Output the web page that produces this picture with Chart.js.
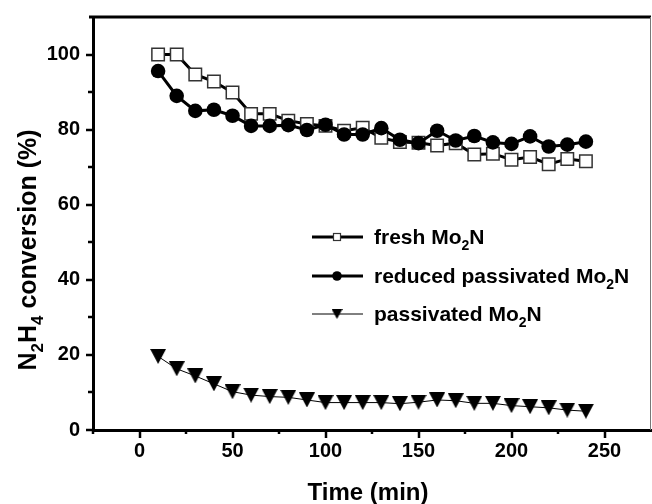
<!DOCTYPE html>
<html>
<head>
<meta charset="utf-8">
<title>N2H4 conversion vs time</title>
<script src="https://cdn.jsdelivr.net/npm/chart.js@4.4.0/dist/chart.umd.min.js"></script>
<style>
  html, body { margin: 0; padding: 0; background: #fff; }
</style>
</head>
<body>
<canvas id="chart" width="652" height="504"></canvas>
<script>
// reaction time (min)
const times = [10, 20, 30, 40, 50, 60, 70, 80, 90, 100, 110, 120,
               130, 140, 150, 160, 170, 180, 190, 200, 210, 220, 230, 240];

// N2H4 conversion (%)
const freshMo2N = [100, 100, 94.7, 92.8, 89.9, 84.2, 84.2, 82.4, 81.5, 81.0, 79.7, 80.5,
                   77.8, 76.7, 76.5, 75.8, 76.4, 73.4, 73.6, 72.0, 72.7, 70.8, 72.2, 71.6];
const reducedPassivatedMo2N = [95.6, 89.0, 85.0, 85.3, 83.7, 81.0, 81.0, 81.2, 79.9, 81.3, 78.7, 78.7,
                               80.4, 77.3, 76.4, 79.7, 77.1, 78.3, 76.6, 76.2, 78.2, 75.5, 76.0, 76.8];
const passivatedMo2N = [19.6, 16.3, 14.4, 12.3, 10.2, 9.3, 8.9, 8.7, 8.0, 7.3, 7.3, 7.3,
                        7.3, 7.0, 7.4, 8.0, 7.8, 7.1, 7.1, 6.5, 6.2, 5.9, 5.3, 5.0];

const seriesLabels = ['fresh Mo₂N', 'reduced passivated Mo₂N', 'passivated Mo₂N'];
const xTickLabels = [0, 50, 100, 150, 200, 250];
const yTickLabels = [0, 20, 40, 60, 80, 100];
const xTitle = 'Time (min)';
const yTitle = 'N₂H₄ conversion (%)';

const FONT = '"Liberation Sans", Arial, Helvetica, sans-serif';
const SUB = { '₂': '2', '₄': '4' };

function toPoints(ys) {
  return times.map((t, i) => ({ x: t, y: ys[i] }));
}

// filled down-pointing triangle, centred in its box
function downTriangle(w, h) {
  const c = document.createElement('canvas');
  c.width = w; c.height = h;
  const g = c.getContext('2d');
  g.fillStyle = '#000';
  g.beginPath();
  g.moveTo(0, 0);
  g.lineTo(w, 0);
  g.lineTo(w / 2, h);
  g.closePath();
  g.fill();
  return c;
}

// split a label into runs of normal text and subscript digits
function runs(str) {
  const out = [];
  for (const ch of str) {
    const sub = ch in SUB;
    const t = sub ? SUB[ch] : ch;
    const last = out[out.length - 1];
    if (last && last.sub === sub) last.t += t;
    else out.push({ t, sub });
  }
  return out;
}

// draw text with subscripts; align 'left' or 'center', baseline alphabetic
function drawRich(ctx, str, x, y, size, align) {
  const parts = runs(str);
  const subSize = Math.round(size * 0.66);
  let total = 0;
  for (const p of parts) {
    ctx.font = 'bold ' + (p.sub ? subSize : size) + 'px ' + FONT;
    p.w = ctx.measureText(p.t).width;
    total += p.w;
  }
  let cx = align === 'center' ? x - total / 2 : x;
  ctx.textAlign = 'left';
  ctx.textBaseline = 'alphabetic';
  for (const p of parts) {
    ctx.font = 'bold ' + (p.sub ? subSize : size) + 'px ' + FONT;
    ctx.fillText(p.t, cx, p.sub ? y + size * 0.28 : y);
    cx += p.w;
  }
}

const decorations = {
  id: 'decorations',
  afterDraw(chart) {
    const { ctx, chartArea: a, scales } = chart;
    ctx.save();
    ctx.fillStyle = '#000';
    ctx.strokeStyle = '#000';

    // top and right frame
    ctx.lineWidth = 3;
    ctx.beginPath();
    ctx.moveTo(89, a.top);
    ctx.lineTo(a.right, a.top);
    ctx.stroke();
    ctx.strokeStyle = '#777';
    ctx.lineWidth = 1;
    ctx.beginPath();
    ctx.moveTo(a.right - 0.5, a.top);
    ctx.lineTo(a.right - 0.5, a.bottom);
    ctx.stroke();

    // outward tick marks, longer where a label sits
    ctx.strokeStyle = '#000';
    ctx.lineWidth = 2.5;
    const xs = scales.x;
    xs.ticks.forEach(t => {
      if (t.value >= xs.max) return;
      const px = Math.round(xs.getPixelForValue(t.value));
      const len = xTickLabels.includes(t.value) ? 8 : 4;
      ctx.beginPath();
      ctx.moveTo(px, a.bottom);
      ctx.lineTo(px, a.bottom + len);
      ctx.stroke();
    });
    const ys = scales.y;
    ys.ticks.forEach(t => {
      if (t.value >= ys.max) return;
      const py = Math.round(ys.getPixelForValue(t.value));
      const len = yTickLabels.includes(t.value) ? 7 : 5;
      ctx.beginPath();
      ctx.moveTo(a.left, py);
      ctx.lineTo(a.left - len, py);
      ctx.stroke();
    });

    // axis titles
    drawRich(ctx, xTitle, (a.left + a.right) / 2 - 4, 500, 24, 'center');
    ctx.save();
    ctx.translate(36, 250);
    ctx.rotate(-Math.PI / 2);
    drawRich(ctx, yTitle, 0, 0, 25, 'center');
    ctx.restore();

    // legend
    const rows = [237, 276, 314];
    chart.data.datasets.forEach((ds, i) => {
      const y = rows[i];
      ctx.strokeStyle = '#000';
      ctx.lineWidth = ds.borderWidth;
      ctx.beginPath();
      ctx.moveTo(312, y);
      ctx.lineTo(363, y);
      ctx.stroke();
      if (i === 0) {
        ctx.fillStyle = '#fff';
        ctx.fillRect(333.5, y - 3.5, 7, 7);
        ctx.lineWidth = 1.2;
        ctx.strokeStyle = '#333';
        ctx.strokeRect(333.5, y - 3.5, 7, 7);
      } else if (i === 1) {
        ctx.fillStyle = '#000';
        ctx.beginPath();
        ctx.arc(337, y, 4.8, 0, Math.PI * 2);
        ctx.fill();
      } else {
        ctx.drawImage(downTriangle(11, 10), 337 - 5.5, y - 5);
      }
      ctx.fillStyle = '#000';
      drawRich(ctx, ds.label, 374, y + 7, 21, 'left');
    });
    ctx.restore();
  }
};

new Chart(document.getElementById('chart'), {
  type: 'line',
  data: {
    datasets: [
      {
        label: seriesLabels[0],
        data: toPoints(freshMo2N),
        borderColor: '#000',
        borderWidth: 3,
        pointStyle: 'rect',
        pointRadius: 8.8,
        pointBackgroundColor: '#fff',
        pointBorderColor: '#333',
        pointBorderWidth: 1.5,
        order: 2
      },
      {
        label: seriesLabels[1],
        data: toPoints(reducedPassivatedMo2N),
        borderColor: '#000',
        borderWidth: 3,
        pointStyle: 'circle',
        pointRadius: 7.3,
        pointBackgroundColor: '#000',
        pointBorderColor: '#000',
        pointBorderWidth: 0,
        order: 1
      },
      {
        label: seriesLabels[2],
        data: toPoints(passivatedMo2N),
        borderColor: '#000',
        borderWidth: 1,
        pointStyle: downTriangle(16, 15),
        order: 0
      }
    ]
  },
  options: {
    responsive: false,
    animation: false,
    devicePixelRatio: 1,
    layout: { autoPadding: false, padding: { top: 16, right: 1, left: 0, bottom: 0 } },
    elements: { line: { tension: 0 } },
    plugins: {
      legend: { display: false },
      tooltip: { enabled: false }
    },
    scales: {
      x: {
        type: 'linear',
        min: -25,
        max: 275,
        afterFit: s => { s.height = 74; },
        grid: { display: false },
        border: { display: true, color: '#000', width: 3 },
        ticks: {
          stepSize: 25,
          padding: 1,
          color: '#000',
          font: { family: FONT, size: 20, weight: 'bold' },
          maxRotation: 0,
          autoSkip: false,
          callback: v => xTickLabels.includes(v) ? String(v) : ''
        }
      },
      y: {
        min: 0,
        max: 110,
        afterFit: s => { s.width = 93; },
        grid: { display: false },
        border: { display: true, color: '#000', width: 3 },
        ticks: {
          stepSize: 10,
          padding: 5,
          color: '#000',
          font: { family: FONT, size: 20, weight: 'bold' },
          autoSkip: false,
          callback: v => yTickLabels.includes(v) ? String(v) : ''
        }
      }
    }
  },
  plugins: [decorations]
});
</script>
</body>
</html>
